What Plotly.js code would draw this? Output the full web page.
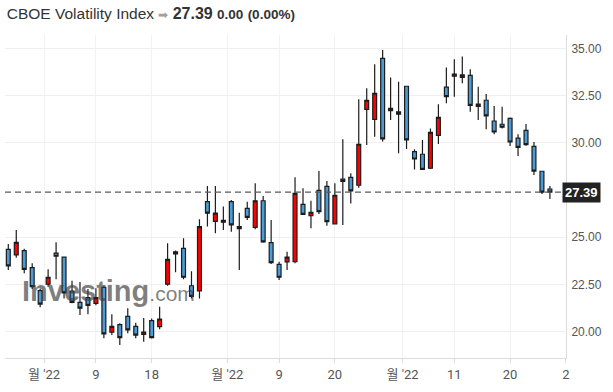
<!DOCTYPE html>
<html>
<head>
<meta charset="utf-8">
<script src="https://cdn.plot.ly/plotly-3.0.1.min.js"></script>
<style>html,body{margin:0;padding:0;background:#fff;}#chart{width:613px;height:392px;}</style>
</head>
<body>
<div id="chart"></div>
<script>
// Trading days (Jul 25 – Oct 27, 2022; investing.com shows a candle on Sep 5)
const dates = [
 '2022-07-25','2022-07-26','2022-07-27','2022-07-28','2022-07-29',
 '2022-08-01','2022-08-02','2022-08-03','2022-08-04','2022-08-05','2022-08-08','2022-08-09','2022-08-10','2022-08-11','2022-08-12',
 '2022-08-15','2022-08-16','2022-08-17','2022-08-18','2022-08-19','2022-08-22','2022-08-23','2022-08-24','2022-08-25','2022-08-26',
 '2022-08-29','2022-08-30','2022-08-31',
 '2022-09-01','2022-09-02','2022-09-05','2022-09-06','2022-09-07','2022-09-08','2022-09-09','2022-09-12','2022-09-13','2022-09-14',
 '2022-09-15','2022-09-16','2022-09-19','2022-09-20','2022-09-21','2022-09-22','2022-09-23','2022-09-26','2022-09-27','2022-09-28',
 '2022-09-29','2022-09-30',
 '2022-10-03','2022-10-04','2022-10-05','2022-10-06','2022-10-07','2022-10-10','2022-10-11','2022-10-12','2022-10-13','2022-10-14',
 '2022-10-17','2022-10-18','2022-10-19','2022-10-20','2022-10-21','2022-10-24','2022-10-25','2022-10-26','2022-10-27'
];
const openVals = [24.36,24.06,24.29,23.39,22.17,22.51,24.16,23.94,22.15,21.55,21.80,21.50,22.34,19.97,20.37,20.81,20.28,19.86,20.58,20.26,
 22.51,24.22,24.41,22.43,22.15,26.88,25.84,25.79,26.88,25.56,26.53,25.52,26.93,24.71,23.56,23.69,23.70,26.74,26.14,27.48,
 27.69,25.71,28.08,28.17,27.75,31.77,31.24,34.47,31.70,31.51,32.99,29.53,29.39,28.65,30.39,32.94,33.52,33.46,33.57,31.93,
 32.25,31.15,30.98,31.29,30.24,30.66,29.81,28.49,27.55];
const highVals = [24.64,25.38,24.39,23.62,22.29,23.30,24.73,23.97,22.70,22.63,22.26,22.30,22.40,20.92,20.44,21.24,20.47,20.72,20.69,21.32,
 24.68,24.29,24.94,23.20,25.95,27.71,27.71,26.62,26.97,26.30,26.88,27.85,27.18,25.91,23.70,24.23,28.17,27.59,26.93,28.50,
 27.98,27.85,30.18,28.38,32.30,32.88,34.15,34.91,33.46,33.23,33.02,29.65,30.15,30.76,32.04,33.99,34.42,34.56,33.89,32.97,
 32.58,31.95,31.91,31.33,30.45,30.99,30.04,28.52,27.71];
const lowVals = [23.26,23.91,23.09,22.26,21.29,22.38,22.77,21.76,21.50,20.88,20.92,21.40,19.65,19.82,19.29,19.91,19.65,19.47,19.63,20.12,
 22.43,23.14,22.77,21.76,21.76,25.56,25.21,25.38,25.29,23.26,25.91,25.42,24.71,23.58,22.73,23.26,23.62,26.18,25.47,26.23,
 25.61,25.68,25.65,26.79,27.62,29.88,30.32,30.06,31.20,29.44,29.67,28.59,28.56,28.61,29.93,32.09,32.44,33.15,31.64,31.20,
 30.71,30.45,30.76,29.83,29.30,29.84,28.29,27.29,27.02];
const closeVals = [23.48,24.73,23.30,22.38,21.46,22.88,23.99,22.05,21.55,21.24,21.39,21.80,19.88,20.28,19.68,20.09,19.81,19.98,19.68,20.67,
 23.83,24.11,22.88,21.87,25.56,26.27,26.27,25.89,25.65,25.45,26.05,26.93,24.75,23.65,22.88,23.94,27.32,26.21,26.32,26.35,
 25.82,27.22,27.96,27.45,29.92,32.25,32.62,30.21,31.82,31.63,30.15,29.14,28.59,30.55,31.35,32.44,33.64,33.59,31.98,32.05,
 31.42,30.57,30.82,30.04,29.76,29.90,28.50,27.39,27.39];

// x-axis ticks (positions in trading-day slots) and labels
const tickPositions = [4.5, 11, 18, 27.5, 34, 41, 49.5, 56, 63, 70];
const tickLabels = ["월 '22", "9", "18", "월 '22", "9", "20", "월 '22", "11", "20", "2"];
// 27.50 is hidden behind the last-price marker in the reference
const yTicks = [20, 22.5, 25, 30, 32.5, 35];

const xIdx = dates.map((d, i) => i);
const lastClose = closeVals[closeVals.length - 1];

const trace = {
  type: 'candlestick',
  x: xIdx,
  open: openVals, high: highVals, low: lowVals, close: closeVals,
  text: dates,
  increasing: {fillcolor: '#ff0000', line: {color: '#1c1c1c', width: 1.2}},
  decreasing: {fillcolor: '#4b9bd7', line: {color: '#1c1c1c', width: 1.2}},
  whiskerwidth: 0,
  hoverinfo: 'x+y'
};

const layout = {
  width: 613, height: 392,
  margin: {l: 5, r: 46.6, t: 35, b: 34},
  paper_bgcolor: '#ffffff', plot_bgcolor: '#ffffff',
  showlegend: false,
  title: {
    text: "CBOE Volatility Index <span style='font-size:12px;color:#a0a0a0'>➡</span> <b><span style='font-size:16px'>27.39</span></b> <b><span style='font-size:13.5px'>0.00</span></b> <b><span style='font-size:13.5px'>(0.00%)</span></b>",
    font: {family: 'Liberation Sans, Arial, sans-serif', size: 15.5, color: '#333333'},
    x: 0.011, xanchor: 'left', xref: 'container',
    y: 0.965, yanchor: 'middle', yref: 'container'
  },
  xaxis: {
    type: 'linear',
    range: [-0.414, 70.02],
    tickvals: tickPositions, ticktext: tickLabels,
    showgrid: true, gridcolor: '#f2f2f2', gridwidth: 1,
    zeroline: false,
    showline: true, linecolor: '#dcdcdc', linewidth: 1,
    ticks: 'outside', ticklen: 4, tickcolor: '#dcdcdc',
    tickfont: {family: "'Liberation Sans Narrow', Roboto, 'Noto Sans CJK KR', sans-serif", size: 13, color: '#555555'},
    rangeslider: {visible: false},
    fixedrange: true
  },
  yaxis: {
    side: 'right',
    range: [18.604, 35.704],
    tickvals: yTicks, tickformat: '.2f',
    showgrid: true, gridcolor: '#efefef', gridwidth: 1,
    zeroline: false,
    showline: true, linecolor: '#dcdcdc', linewidth: 1,
    ticks: '', ticklabelstandoff: 2,
    tickfont: {family: 'Liberation Sans, Arial, sans-serif', size: 12, color: '#555555'},
    fixedrange: true
  },
  shapes: [{
    type: 'line', xref: 'paper', x0: 0, x1: 1.01, yref: 'y', y0: lastClose, y1: lastClose,
    line: {color: '#5a5a5a', width: 1.2, dash: '6px,4px'}
  }],
  annotations: [
    {
      xref: 'x', yref: 'y', x: 1.5, y: 22.15, xanchor: 'left', yanchor: 'middle',
      text: "<b>Investing</b><span style='font-size:21px'>.com</span>",
      showarrow: false,
      font: {family: 'Liberation Sans, Arial, sans-serif', size: 29, color: 'rgba(60,60,60,0.66)'}
    },
    {
      xref: 'paper', yref: 'y', x: 1, y: lastClose, xanchor: 'left', yanchor: 'middle', xshift: -4,
      text: '<b>' + lastClose.toFixed(2) + '</b>',
      showarrow: false, bgcolor: '#222222', borderpad: 2,
      font: {family: 'Liberation Sans, Arial, sans-serif', size: 13, color: '#ffffff'}
    }
  ]
};

Plotly.newPlot('chart', [trace], layout, {displayModeBar: false, staticPlot: true});
</script>
</body>
</html>
